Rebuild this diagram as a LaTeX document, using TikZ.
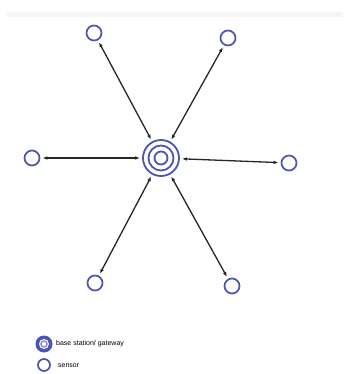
\documentclass[tikz,border=0pt]{standalone}
\usepackage{fontspec}
\setmainfont{Liberation Sans}
\usetikzlibrary{arrows.meta}
\definecolor{ringblue}{HTML}{4A54B4}
\definecolor{ringlight}{HTML}{8E96D8}

\begin{document}
\begin{tikzpicture}[x=1pt, y=-1pt,
          sens/.style={circle, draw=ringblue, line width=1.7pt, minimum size=15pt, inner sep=0pt},
          ring/.style={circle, draw=ringblue, line width=1.8pt, inner sep=0pt},
          lbl/.style={font=\fontsize{7}{8}\selectfont, anchor=west, inner sep=0pt},
          arr/.style={{Latex[length=5pt,width=3.6pt]}-{Latex[length=5pt,width=3.6pt]}, line width=1.3pt, black!85, shorten <=2pt, shorten >=2pt}]
        \useasboundingbox (0,0) rectangle (343,374);
        \fill[black!4] (7,12) rectangle (343,17);
        % base station
        \node[ring, minimum size=36pt] (bs) at (161,158) {};
        \node[ring, minimum size=25pt] at (bs) {};
        \node[ring, minimum size=13pt] at (bs) {};
        % sensors
        \node[sens] (s1) at (94,33) {};
        \node[sens] (s2) at (228,38) {};
        \node[sens] (s3) at (32,158) {};
        \node[sens] (s4) at (289,163) {};
        \node[sens] (s5) at (95,283) {};
        \node[sens] (s6) at (232,286) {};
        \foreach \s in {s1,s2,s3,s4,s5,s6} {\draw[arr] (\s) -- (bs);}
        % legend
        \node[circle, fill=ringblue, minimum size=17pt, inner sep=0pt] (lbs) at (44,344) {};
        \node[circle, fill=white, minimum size=10pt, inner sep=0pt] at (lbs) {};
        \node[circle, draw=ringlight, line width=1.6pt, minimum size=6pt, inner sep=0pt] at (lbs) {};
        \node[lbl] (tbs) at (56,344) {base station/ gateway};
        \node[sens, minimum size=12pt] (lsn) at (44,365) {};
        \node[lbl] (tsn) at (58,366) {sensor};
      \end{tikzpicture}
\end{document}
